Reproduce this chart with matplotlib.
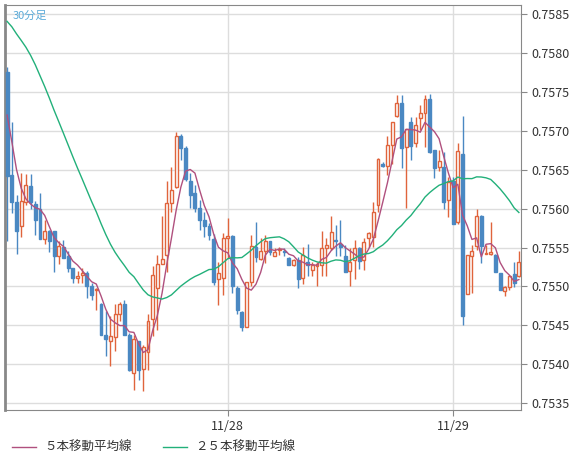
import numpy as np
import pandas as pd
import matplotlib
matplotlib.use("Agg")
import matplotlib.pyplot as plt

plt.rcParams['font.family'] = ['Noto Sans CJK JP', 'DejaVu Sans']

# OHLC (30-minute candles)
opens = [.75776,.75643,.75609,.75578,.75609,.75629,.75606,.75599,.75561,.75571,.75571,.75539,.75551,.75539,.75524,.75511,.75515,.75517,.75501,.75495,
         .75477,.75438,.75430,.75435,.75465,.75478,.75438,.75388,.75430,.75394,.75416,.75458,.75498,.75529,.75541,.75607,.75628,.75693,.75678,.75636,
         .75620,.75601,.75585,.75578,.75561,.75509,.75511,.75562,.75565,.75498,.75467,.75448,.75506,.75551,.75535,.75545,.75559,.75539,.75547,.75546,
         .75537,.75527,.75534,.75511,.75532,.75521,.75526,.75528,.75549,.75549,.75560,.75555,.75539,.75520,.75534,.75549,.75534,.75562,.75564,.75605,
         .75658,.75655,.75682,.75719,.75736,.75679,.75711,.75685,.75717,.75723,.75741,.75675,.75653,.75653,.75611,.75635,.75583,.75670,.75490,.75539,
         .75552,.75590,.75542,.75542,.75540,.75517,.75494,.75499,.75516,.75513]
closes = [.75642,.75609,.75571,.75610,.75631,.75609,.75585,.75561,.75571,.75558,.75539,.75552,.75537,.75524,.75511,.75513,.75517,.75500,.75489,.75496,
          .75437,.75432,.75436,.75465,.75478,.75437,.75392,.75432,.75392,.75422,.75455,.75515,.75529,.75535,.75607,.75624,.75694,.75678,.75638,.75618,
          .75601,.75585,.75578,.75566,.75506,.75517,.75562,.75565,.75500,.75470,.75448,.75506,.75552,.75538,.75546,.75559,.75544,.75544,.75548,.75544,
          .75527,.75534,.75510,.75541,.75527,.75528,.75529,.75549,.75553,.75570,.75558,.75551,.75518,.75532,.75549,.75533,.75557,.75569,.75596,.75664,
          .75655,.75682,.75711,.75736,.75678,.75703,.75681,.75707,.75723,.75741,.75673,.75652,.75661,.75608,.75634,.75580,.75674,.75462,.75540,.75546,
          .75590,.75552,.75543,.75544,.75519,.75496,.75499,.75514,.75504,.75531]
highs = [.75782,.75712,.75618,.75646,.75645,.75644,.75610,.75620,.75586,.75573,.75571,.75558,.75560,.75545,.75524,.75520,.75524,.75520,.75505,.75498,
         .75479,.75468,.75462,.75477,.75480,.75482,.75440,.75438,.75430,.75425,.75464,.75526,.75541,.75590,.75635,.75653,.75699,.75696,.75680,.75646,
         .75631,.75611,.75596,.75581,.75568,.75532,.75569,.75588,.75566,.75500,.75468,.75506,.75566,.75583,.75562,.75566,.75559,.75549,.75551,.75549,
         .75538,.75535,.75538,.75551,.75555,.75532,.75532,.75571,.75562,.75590,.75579,.75586,.75553,.75549,.75560,.75551,.75562,.75570,.75609,.75665,
         .75660,.75693,.75712,.75746,.75746,.75703,.75718,.75718,.75733,.75746,.75747,.75675,.75675,.75673,.75641,.75641,.75684,.75719,.75540,.75553,
         .75600,.75592,.75553,.75583,.75542,.75517,.75500,.75515,.75532,.75546]
lows = [.75559,.75595,.75542,.75563,.75605,.75599,.75566,.75561,.75554,.75544,.75518,.75529,.75537,.75518,.75504,.75504,.75504,.75485,.75482,.75470,
        .75437,.75410,.75397,.75417,.75455,.75437,.75391,.75367,.75380,.75365,.75392,.75436,.75444,.75534,.75519,.75596,.75626,.75663,.75636,.75601,
        .75596,.75573,.75563,.75560,.75502,.75476,.75489,.75536,.75491,.75464,.75442,.75448,.75500,.75532,.75534,.75530,.75541,.75539,.75541,.75539,
        .75527,.75526,.75498,.75503,.75513,.75513,.75501,.75513,.75514,.75547,.75539,.75539,.75519,.75501,.75510,.75523,.75521,.75551,.75551,.75596,
        .75654,.75643,.75658,.75718,.75652,.75601,.75662,.75679,.75701,.75679,.75671,.75639,.75649,.75600,.75589,.75580,.75580,.75450,.75491,.75492,
        .75547,.75530,.75542,.75540,.75519,.75495,.75488,.75496,.75499,.75512]
# closes before the first shown candle (for moving averages only)
prior_closes = [.7578,.7580,.7582,.7585,.7587,.7589,.7591,.7592,.7593,.7593,.7592,.7591,
                .7590,.7589,.7588,.7587,.7586,.7585,.7583,.7581,.7578,.7575,.7573,.7570]
date_labels = ["11/28", "11/29"]
date_index = [47, 95]
yticks = [0.7535, 0.7540, 0.7545, 0.7550, 0.7555, 0.7560, 0.7565, 0.7570, 0.7575, 0.7580, 0.7585]

n = len(closes)
allc = pd.Series(prior_closes + closes)
ma5 = allc.rolling(5).mean().values[len(prior_closes):]
ma25 = allc.rolling(25).mean().values[len(prior_closes):]

UP = "#e0643c"
DN = "#4a88c2"
fig = plt.figure(figsize=(5.74, 4.62), dpi=100)
fig.patch.set_facecolor("white")
ax = fig.add_axes([5/574, 1-410/462, 516/574, 405/462])
x = np.arange(n)
ax.set_xlim(-0.45, n - 0.55)
ax.set_ylim(0.75341, 0.75862)
ax.set_yticks(yticks)
ax.set_yticklabels([f"{v:.4f}" for v in yticks], fontsize=9, color="#333333")
ax.yaxis.tick_right()
ax.set_xticks(date_index)
ax.set_xticklabels(date_labels, fontsize=9, color="#333333")
ax.tick_params(axis='both', length=4, color="#888888")
ax.grid(True, color="#dddddd", linewidth=1)
ax.set_axisbelow(True)
for s in ax.spines.values():
    s.set_color("#888888")
ax.spines['left'].set_linewidth(2)

w = 0.62
for i in range(n):
    o, c, h, l = opens[i], closes[i], highs[i], lows[i]
    up = c >= o
    col = UP if up else DN
    ax.vlines(x[i], l, h, color=col, linewidth=1, zorder=2)
    bot = min(o, c)
    hgt = max(abs(c - o), 0.000012)
    ax.add_patch(plt.Rectangle((x[i] - w/2, bot), w, hgt,
                               facecolor="white" if up else col,
                               edgecolor=col, linewidth=1, zorder=3))

ax.plot(x, ma5, color="#b0507e", linewidth=1, zorder=4)
ax.plot(x, ma25, color="#22b07a", linewidth=1, zorder=4)

ax.text(0.014, 0.985, "30分足", transform=ax.transAxes, fontsize=8,
        color="#5aaad8", va="top", ha="left")

# legend
fig.add_artist(plt.Line2D([12/574, 36/574], [1-447/462]*2, color="#b0507e", linewidth=1))
fig.text(44/574, 1-447/462, "５本移動平均線", fontsize=9, va="center", color="#333333")
fig.add_artist(plt.Line2D([163/574, 187/574], [1-447/462]*2, color="#22b07a", linewidth=1))
fig.text(195/574, 1-447/462, "２５本移動平均線", fontsize=9, va="center", color="#333333")

fig.savefig("out.png", dpi=100)
